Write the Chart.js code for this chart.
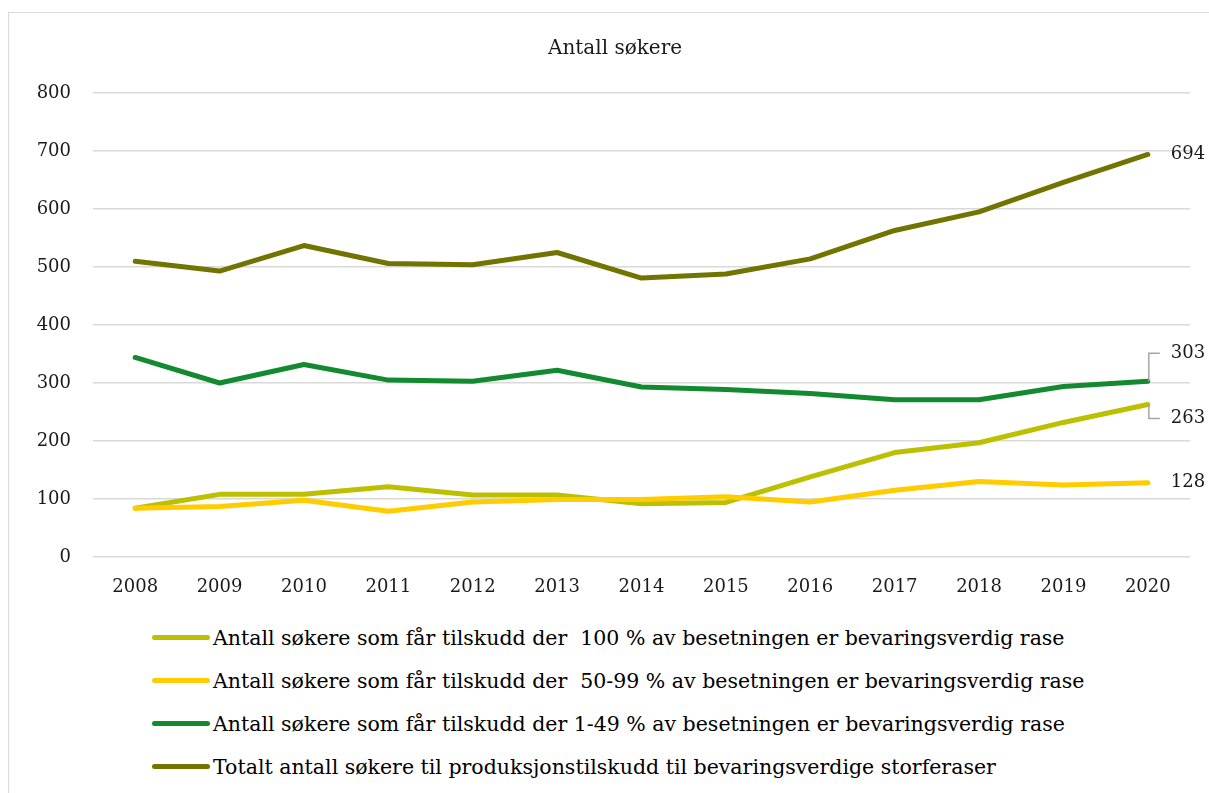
<!DOCTYPE html>
<html>
<head>
<meta charset="utf-8">
<script src="https://cdn.jsdelivr.net/npm/chart.js@4/dist/chart.umd.min.js"></script>
<style>
html, body { margin: 0; padding: 0; background: #fff; overflow: hidden; width: 1209px; height: 793px; }
#frame { position: absolute; left: 8px; top: 12px; width: 1230px; height: 820px; border: 1px solid #d9d9d9; }
#wrap { position: absolute; left: 8px; top: 12px; width: 1215px; height: 603px; }
#title { position: absolute; left: 415px; width: 400px; top: 34px; text-align: center; font-family: "DejaVu Serif", serif; font-size: 20px; line-height: 26px; color: #1a1a1a; }
#legend { position: absolute; left: 152px; top: 616px; font-family: "DejaVu Serif", serif; font-size: 20.5px; color: #000; }
.item { display: flex; align-items: center; height: 43px; white-space: pre; }
.swatch { width: 58px; height: 5px; border-radius: 3px; margin-right: 3px; }
</style>
</head>
<body>
<div id="frame"></div>
<div id="wrap"><canvas id="chart"></canvas></div>
<div id="title">Antall søkere</div>
<div id="legend"></div>
<script>
// Data
const years = ['2008', '2009', '2010', '2011', '2012', '2013', '2014', '2015', '2016', '2017', '2018', '2019', '2020'];
const full = [84, 108, 108, 121, 107, 107, 92, 94, 138, 180, 197, 232, 263];
const partHigh = [84, 87, 98, 79, 95, 99, 99, 104, 95, 115, 130, 124, 128];
const partLow = [344, 300, 332, 305, 303, 322, 293, 289, 282, 271, 271, 294, 303];
const total = [510, 493, 537, 506, 504, 525, 481, 488, 514, 563, 595, 646, 694];
const yTicks = [0, 100, 200, 300, 400, 500, 600, 700, 800];

const seriesLabels = [
    'Antall søkere som får tilskudd der  100 % av besetningen er bevaringsverdig rase',
    'Antall søkere som får tilskudd der  50-99 % av besetningen er bevaringsverdig rase',
    'Antall søkere som får tilskudd der 1-49 % av besetningen er bevaringsverdig rase',
    'Totalt antall søkere til produksjonstilskudd til bevaringsverdige storferaser'
];
const seriesColors = ['#bcc000', '#ffcc00', '#138a30', '#717400'];
const seriesValues = [full, partHigh, partLow, total];
const drawOrder = [2, 1, 3, 4];

const serif = '"DejaVu Serif", serif';

// end-of-line value labels, with leader lines where they are shifted
const endLabel = {
    id: 'endLabel',
    afterDatasetsDraw(chart) {
        const ctx = chart.ctx;
        const shift = [14, 0, -28, 0];
        ctx.save();
        ctx.font = '18px ' + serif;
        ctx.fillStyle = '#1a1a1a';
        ctx.textBaseline = 'middle';
        ctx.textAlign = 'left';
        chart.data.datasets.forEach((ds, i) => {
            const pts = chart.getDatasetMeta(i).data;
            const p = pts[pts.length - 1];
            const ly = p.y + shift[i];
            if (shift[i] !== 0) {
                ctx.strokeStyle = '#a6a6a6';
                ctx.lineWidth = 1.5;
                ctx.beginPath();
                ctx.moveTo(p.x + 1, p.y);
                ctx.lineTo(p.x + 1, ly);
                ctx.lineTo(p.x + 12, ly);
                ctx.stroke();
            }
            ctx.fillText(ds.data[ds.data.length - 1], p.x + 23, ly);
        });
        ctx.restore();
    }
};

const datasets = seriesValues.map((vals, i) => ({
    label: seriesLabels[i],
    data: vals,
    borderColor: seriesColors[i],
    backgroundColor: seriesColors[i],
    borderWidth: 5,
    pointRadius: 0,
    tension: 0,
    borderCapStyle: 'round',
    borderJoinStyle: 'round',
    order: drawOrder[i],
    clip: false
}));

new Chart(document.getElementById('chart'), {
    type: 'line',
    data: { labels: years, datasets: datasets },
    plugins: [endLabel],
    options: {
        responsive: true,
        maintainAspectRatio: false,
        animation: false,
        layout: { padding: { right: 33, left: 0, top: 81, bottom: 0 } },
        plugins: {
            legend: { display: false },
            tooltip: { enabled: false },
            title: { display: false }
        },
        scales: {
            x: {
                offset: true,
                grid: { display: false, drawTicks: false },
                border: { display: false },
                ticks: { color: '#1a1a1a', font: { family: serif, size: 18 }, padding: 20, maxRotation: 0 },
                afterFit: s => { s.height = 58; }
            },
            y: {
                min: 0,
                max: 800,
                afterBuildTicks: s => { s.ticks = yTicks.map(v => ({ value: v })); },
                grid: { color: '#d9d9d9', lineWidth: 1.5, drawTicks: false },
                border: { display: false },
                ticks: { color: '#1a1a1a', font: { family: serif, size: 18 }, padding: 22 },
                afterFit: s => { s.width = 85; }
            }
        }
    }
});

// legend
const legend = document.getElementById('legend');
legend.innerHTML = seriesLabels.map((l, i) =>
    `<div class="item"><span class="swatch" style="background:${seriesColors[i]}"></span>${l}</div>`
).join('');
</script>
</body>
</html>
